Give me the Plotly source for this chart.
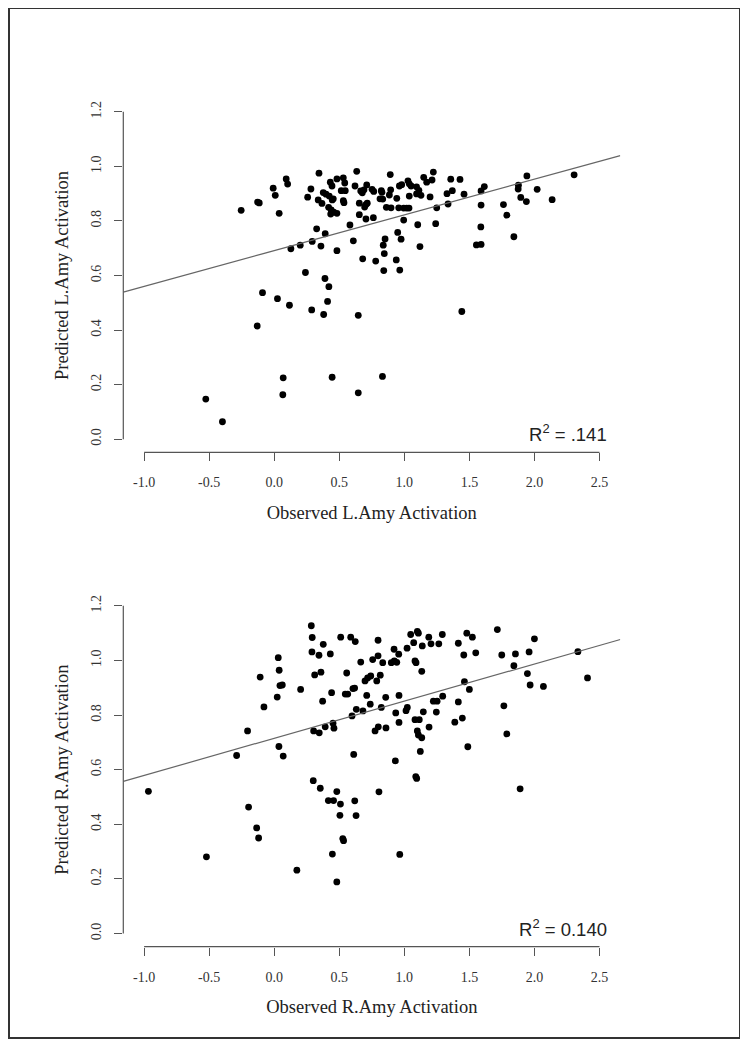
import plotly.graph_objects as go

# ---- data ----
obs_left = [
    -0.254, -0.128, -0.115, -0.008, 0.008, 0.038, 0.092, 0.103, 0.344, 0.282,
    0.257, 0.338, 0.367, 0.377, 0.398, 0.423, 0.431, 0.444, 0.446, 0.454,
    0.418, 0.438, 0.434, 0.457, 0.482, 0.482, 0.531, 0.542, 0.515, 0.546,
    0.531, 0.536, 0.634, 0.621, 0.654, 0.654, 0.665, 0.677, 0.690, 0.711,
    0.705, 0.695, 0.715, 0.705, 0.762, 0.752, 0.765, 0.823, 0.828, 0.813,
    0.834, 0.892, 0.885, 0.895, 0.862, 0.898, 0.942, 0.957, 0.995, 0.962,
    0.980, 1.028, 1.038, 1.052, 1.038, 1.018, 1.036, 1.094, 1.112, 1.094,
    1.128, 0.995, 1.103, 0.582, 0.326, 0.392, 0.292, 0.128, 0.200, 0.359,
    0.482, 0.608, 0.852, 0.838, 0.846, 0.680, 0.780, 0.938, 0.949, 0.975,
    0.842, 0.965, 1.120, 0.240, 0.390, 0.420, -0.090, 0.025, 0.117, 0.410,
    0.288, 0.380, 0.646, 1.442, -0.131, 0.069, 0.445, 0.832, 0.066, 0.646,
    -0.526, -0.398, 1.149, 1.223, 1.213, 1.172, 1.198, 1.249, 1.241, 1.357,
    1.428, 1.328, 1.369, 1.336, 1.459, 1.590, 1.615, 1.590, 1.588, 1.554,
    1.590, 1.762, 1.788, 1.842, 1.877, 1.875, 1.895, 1.942, 1.938, 2.021,
    2.136, 2.305,
]
pred_left = [
    0.839, 0.869, 0.866, 0.920, 0.894, 0.828, 0.954, 0.935, 0.975, 0.917,
    0.887, 0.877, 0.864, 0.904, 0.898, 0.891, 0.942, 0.928, 0.877, 0.881,
    0.850, 0.840, 0.825, 0.832, 0.828, 0.954, 0.958, 0.939, 0.911, 0.911,
    0.874, 0.867, 0.982, 0.928, 0.865, 0.823, 0.910, 0.903, 0.914, 0.932,
    0.860, 0.851, 0.865, 0.807, 0.812, 0.916, 0.908, 0.911, 0.905, 0.881,
    0.880, 0.970, 0.895, 0.914, 0.850, 0.848, 0.883, 0.848, 0.847, 0.928,
    0.933, 0.947, 0.936, 0.928, 0.891, 0.847, 0.847, 0.925, 0.912, 0.899,
    0.894, 0.803, 0.786, 0.785, 0.771, 0.753, 0.725, 0.698, 0.711, 0.708,
    0.691, 0.727, 0.734, 0.711, 0.680, 0.661, 0.653, 0.657, 0.758, 0.733,
    0.618, 0.620, 0.706, 0.611, 0.589, 0.559, 0.537, 0.515, 0.491, 0.505,
    0.474, 0.457, 0.454, 0.468, 0.415, 0.225, 0.227, 0.230, 0.163, 0.170,
    0.147, 0.064, 0.960, 0.979, 0.950, 0.942, 0.888, 0.848, 0.790, 0.953,
    0.952, 0.900, 0.911, 0.862, 0.898, 0.910, 0.926, 0.858, 0.778, 0.712,
    0.714, 0.860, 0.821, 0.742, 0.931, 0.917, 0.886, 0.965, 0.871, 0.916,
    0.878, 0.969,
]

obs_right = [
    0.285, 0.292, 0.377, 0.290, 0.344, 0.431, 0.511, 0.588, 0.623, 0.798,
    0.921, 0.957, 1.049, 1.100, 1.108, 1.072, 1.021, 0.798, 0.757, 0.834,
    0.900, 0.923, 0.942, 1.082, 1.090, 0.665, 0.031, 0.038, -0.108, 0.044,
    0.062, 0.023, 0.203, 0.311, 0.359, 0.557, 0.698, 0.718, 0.742, 0.788,
    0.815, 0.605, 0.618, 0.546, 0.565, 0.441, 0.372, 0.711, 0.857, 0.959,
    0.738, 0.823, 0.631, 0.682, 0.598, 0.934, 1.023, 1.013, 0.959, -0.079,
    -0.205, -0.289, 0.036, 0.069, 0.303, 0.346, 0.392, 0.452, 0.459, 0.800,
    0.775, 0.859, 1.100, 1.108, 0.611, 0.931, 0.300, 0.354, 1.188, 1.292,
    1.138, 1.205, 1.265, 1.134, 1.415, 1.480, 1.523, 1.457, 1.549, 1.715,
    1.749, 1.854, 1.842, 1.959, 2.000, 1.946, 1.967, 2.069, 2.334, 2.408,
    1.462, 1.500, 1.295, 1.223, 1.252, 1.146, 1.246, 1.415, 1.765, 1.082,
    1.115, 1.388, 1.446, 1.190, 1.134, 1.788, 1.488, 1.123, 1.890, -0.967,
    0.481, 0.416, 0.456, 0.509, 0.619, 0.505, 0.629, 0.805, 1.088, 1.095,
    -0.197, -0.135, -0.120, -0.521, 0.527, 0.533, 0.447, 0.965, 0.174, 0.481,
]
pred_right = [
    1.127, 1.084, 1.059, 1.031, 1.019, 1.024, 1.085, 1.085, 1.069, 1.074,
    1.041, 1.023, 1.095, 1.106, 1.100, 1.065, 1.045, 1.017, 1.003, 0.992,
    0.992, 0.998, 0.993, 0.998, 0.992, 0.994, 1.010, 0.964, 0.939, 0.908,
    0.910, 0.866, 0.894, 0.947, 0.957, 0.954, 0.925, 0.936, 0.943, 0.925,
    0.946, 0.897, 0.899, 0.877, 0.877, 0.882, 0.851, 0.872, 0.865, 0.872,
    0.840, 0.828, 0.821, 0.815, 0.797, 0.808, 0.828, 0.816, 0.773, 0.830,
    0.742, 0.652, 0.685, 0.650, 0.742, 0.735, 0.757, 0.770, 0.752, 0.757,
    0.742, 0.753, 0.742, 0.727, 0.656, 0.632, 0.560, 0.532, 1.085, 1.095,
    1.053, 1.061, 1.061, 0.960, 1.063, 1.100, 1.085, 1.020, 1.028, 1.113,
    1.020, 1.024, 0.981, 1.031, 1.079, 0.952, 0.910, 0.905, 1.032, 0.936,
    0.922, 0.894, 0.869, 0.851, 0.851, 0.812, 0.811, 0.848, 0.834, 0.783,
    0.783, 0.774, 0.789, 0.756, 0.717, 0.731, 0.684, 0.667, 0.530, 0.521,
    0.520, 0.487, 0.487, 0.474, 0.486, 0.433, 0.432, 0.519, 0.575, 0.568,
    0.463, 0.387, 0.350, 0.281, 0.348, 0.340, 0.291, 0.290, 0.232, 0.189,
]

fit_left = (0.691, 0.131)    # intercept, slope
fit_right = (0.715, 0.136)
r2_left = "R<sup>2</sup> = .141"
r2_right = "R<sup>2</sup> = 0.140"

x_ticks = [-1.0, -0.5, 0.0, 0.5, 1.0, 1.5, 2.0, 2.5]
x_ticktext = ["-1.0", "-0.5", "0.0", "0.5", "1.0", "1.5", "2.0", "2.5"]
y_ticks = [0.0, 0.2, 0.4, 0.6, 0.8, 1.0, 1.2]
y_ticktext = ["0.0", "0.2", "0.4", "0.6", "0.8", "1.0", "1.2"]

x_titles = ["Observed L.Amy Activation", "Observed R.Amy Activation"]
y_titles = ["Predicted L.Amy Activation", "Predicted R.Amy Activation"]

X_RANGE = [-1.16, 2.66]
Y_RANGE = [-0.048, 1.248]

# the page body adds an 8px margin, so the figure is made smaller
# and all page positions are shifted by that amount
PAGE_OFF = 8
W, H = 740, 1039
SERIF = "Liberation Serif, Times New Roman, serif"
SANS = "Liberation Sans, Arial, sans-serif"
AXIS_COL = "#555555"


def fx(px):
    return (px - PAGE_OFF) / W


def fy(py):
    return 1 - (py - PAGE_OFF) / H


fig = go.Figure()

panels = [
    (obs_left, pred_left, fit_left, r2_left, "x", "y"),
    (obs_right, pred_right, fit_right, r2_right, "x2", "y2"),
]

for xs, ys, (b0, b1), r2, xa, ya in panels:
    fig.add_trace(go.Scatter(
        x=xs, y=ys, mode="markers", xaxis=xa, yaxis=ya,
        marker=dict(color="black", size=6.8, line=dict(width=0)),
        showlegend=False, hoverinfo="skip",
    ))
    line_x = X_RANGE
    line_y = [b0 + b1 * v for v in line_x]
    fig.add_trace(go.Scatter(
        x=line_x, y=line_y, mode="lines", xaxis=xa, yaxis=ya,
        line=dict(color="#666666", width=1.2),
        showlegend=False, hoverinfo="skip",
    ))
    fig.add_annotation(
        x=2.57, y=0.022, xref=xa, yref=ya, text=r2,
        xanchor="right", yanchor="middle", showarrow=False,
        font=dict(family=SANS, size=18.5, color="#222222"),
    )
    # R style detached axis lines
    fig.add_shape(type="line", xref=xa, yref=ya + " domain",
                  x0=x_ticks[0], x1=x_ticks[-1], y0=0, y1=0,
                  line=dict(color=AXIS_COL, width=1.2))
    fig.add_shape(type="line", xref=xa + " domain", yref=ya,
                  x0=0, x1=0, y0=y_ticks[0], y1=y_ticks[-1],
                  line=dict(color=AXIS_COL, width=1.2))


def xaxis_style(title, domain_anchor):
    return dict(
        domain=[fx(123.3), fx(620.3)], range=X_RANGE, anchor=domain_anchor,
        showgrid=False, zeroline=False, showline=False,
        ticks="outside", ticklen=8, tickwidth=1.2, tickcolor=AXIS_COL,
        tickvals=x_ticks, ticktext=x_ticktext, ticklabelstandoff=9,
        tickfont=dict(family=SERIF, size=14, color="#333333"),
        title=dict(text=title, standoff=16,
                   font=dict(family=SERIF, size=18.5, color="#222222")),
    )


def yaxis_style(title, top_px, bottom_px, domain_anchor):
    return dict(
        domain=[fy(bottom_px), fy(top_px)], range=Y_RANGE,
        anchor=domain_anchor,
        showgrid=False, zeroline=False, showline=False,
        ticks="outside", ticklen=8, tickwidth=1.2, tickcolor=AXIS_COL,
        tickvals=y_ticks, ticktext=y_ticktext, tickangle=-90,
        ticklabelstandoff=8,
        tickfont=dict(family=SERIF, size=14, color="#333333"),
        title=dict(text=title, standoff=15,
                   font=dict(family=SERIF, size=18.5, color="#222222")),
    )


fig.update_layout(
    width=W, height=H,
    margin=dict(l=0, r=0, t=0, b=0),
    paper_bgcolor="white", plot_bgcolor="white",
    xaxis=xaxis_style(x_titles[0], "y"),
    yaxis=yaxis_style(y_titles[0], 98.7, 452.3, "x"),
    xaxis2=xaxis_style(x_titles[1], "y2"),
    yaxis2=yaxis_style(y_titles[1], 592.7, 946.7, "x2"),
)

# outer frame
fig.add_shape(type="rect", xref="paper", yref="paper",
              x0=fx(9), x1=fx(740), y0=fy(1038), y1=fy(8),
              line=dict(color="#333333", width=2))

fig.write_html("out.html")
